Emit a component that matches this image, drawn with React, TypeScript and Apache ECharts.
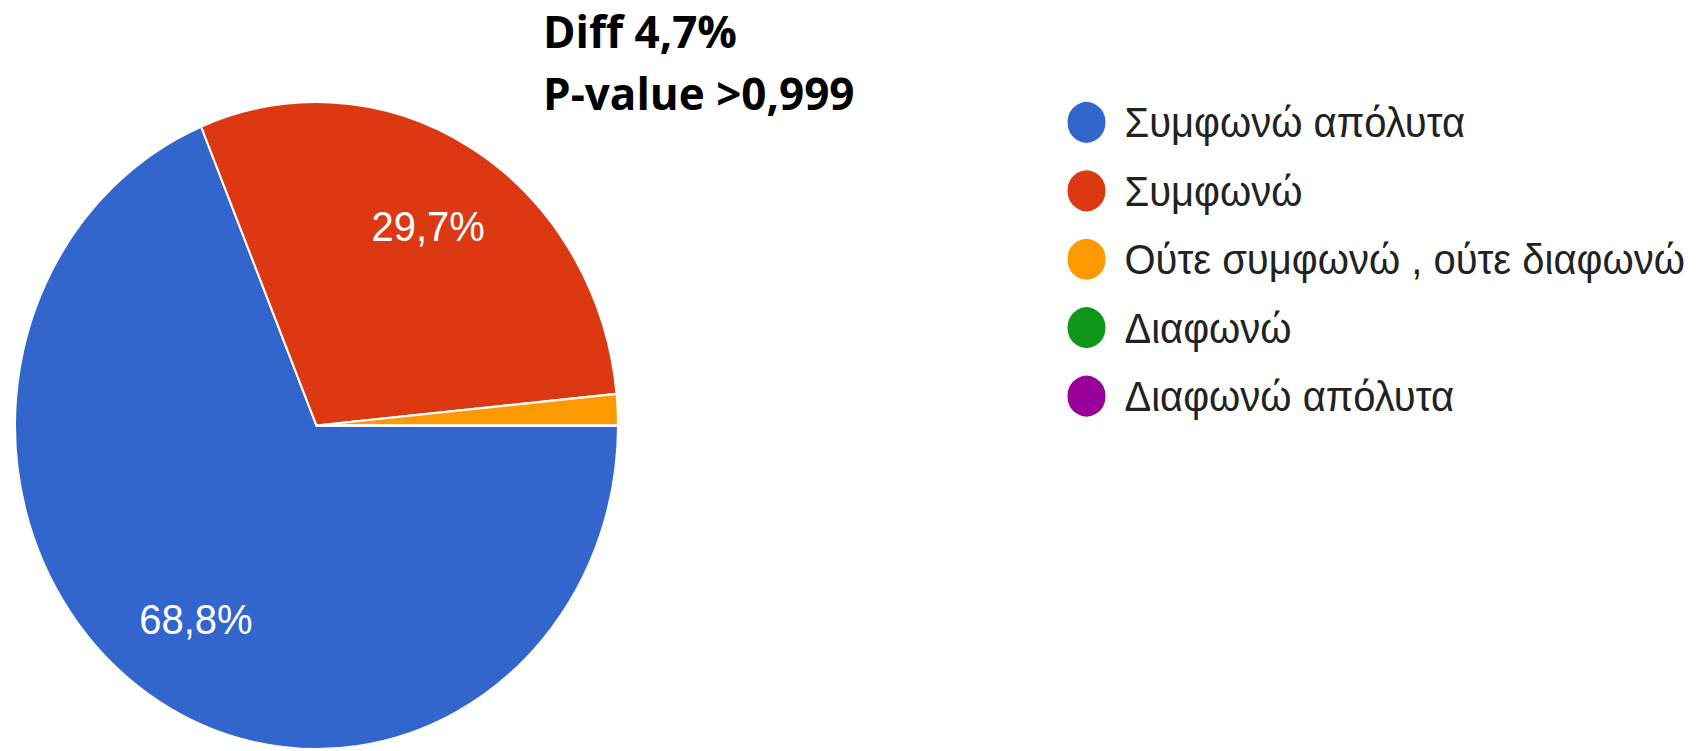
import React, { useEffect, useRef } from "react";
import * as echarts from "echarts";

const categories = [
  "Συμφωνώ απόλυτα",
  "Συμφωνώ",
  "Ούτε συμφωνώ , ούτε διαφωνώ",
  "Διαφωνώ",
  "Διαφωνώ απόλυτα",
];
const counts = [44, 19, 1, 0, 0];
const colors = ["#3366cc", "#dc3912", "#ff9900", "#109618", "#990099"];
const annotations = ["Diff 4,7%", "P-value >0,999"];

const SCALE_Y = 1.073;
const W = 1703;
const H = 751;

export default function App() {
  const pieRef = useRef<HTMLDivElement>(null);
  const txtRef = useRef<HTMLDivElement>(null);

  useEffect(() => {
    const total = counts.reduce((a, b) => a + b, 0);
    const data = categories.map((name, i) => ({
      name,
      value: counts[i],
      itemStyle: { color: colors[i] },
    }));
    const R = 301.5;
    const center = [316.5, 396.6];

    const pie = echarts.init(pieRef.current!, null, { renderer: "svg" });
    pie.setOption({
      animation: false,
      legend: {
        orient: "vertical",
        left: 1065.5,
        top: 93,
        padding: 0,
        icon: "circle",
        itemWidth: 40,
        itemHeight: 40,
        itemGap: 21.8,
        selectedMode: false,
        data: categories,
        textStyle: {
          fontFamily: "Liberation Sans, Arial, sans-serif",
          fontSize: 40,
          color: "#222222",
          lineHeight: 40,
          padding: [0, 0, 0, 13],
        },
      },
      series: [
        {
          type: "pie",
          center,
          radius: [0, R],
          startAngle: 0,
          clockwise: true,
          avoidLabelOverlap: false,
          label: { show: false },
          labelLine: { show: false },
          itemStyle: { borderColor: "#ffffff", borderWidth: 2 },
          emphasis: { disabled: true },
          data,
        },
        {
          type: "pie",
          center,
          radius: [R * 0.42, R],
          startAngle: 0,
          clockwise: true,
          silent: true,
          avoidLabelOverlap: false,
          itemStyle: { color: "transparent", borderWidth: 0 },
          emphasis: { disabled: true },
          label: {
            show: true,
            position: "inside",
            color: "#ffffff",
            fontFamily: "Liberation Sans, Arial, sans-serif",
            fontSize: 40,
            formatter: (p: any) => {
              const pct = (p.value / total) * 100;
              return pct < 5 ? "" : pct.toFixed(1).replace(".", ",") + "%";
            },
          },
          labelLine: { show: false },
          data: categories.map((name, i) => ({ name, value: counts[i] })),
        },
      ],
    });

    const txt = echarts.init(txtRef.current!, null, { renderer: "svg" });
    txt.setOption({
      animation: false,
      graphic: annotations.map((t, i) => ({
        type: "text",
        left: 543,
        top: i === 0 ? 9 : 71,
        style: {
          text: t,
          fontFamily: "Open Sans, Liberation Sans, sans-serif",
          fontWeight: "bold",
          fontSize: 44,
          fill: "#000000",
        },
      })),
    });

    return () => {
      pie.dispose();
      txt.dispose();
    };
  }, []);

  return (
    <div
      style={{
        position: "absolute",
        left: 0,
        top: 0,
        width: W,
        height: H,
        overflow: "hidden",
        background: "#ffffff",
      }}
    >
      <div
        ref={pieRef}
        style={{
          position: "absolute",
          left: 0,
          top: 0,
          width: W,
          height: H / SCALE_Y,
          transform: `scaleY(${SCALE_Y})`,
          transformOrigin: "0 0",
        }}
      />
      <div
        ref={txtRef}
        style={{
          position: "absolute",
          left: 0,
          top: 0,
          width: W,
          height: H,
          pointerEvents: "none",
        }}
      />
    </div>
  );
}
